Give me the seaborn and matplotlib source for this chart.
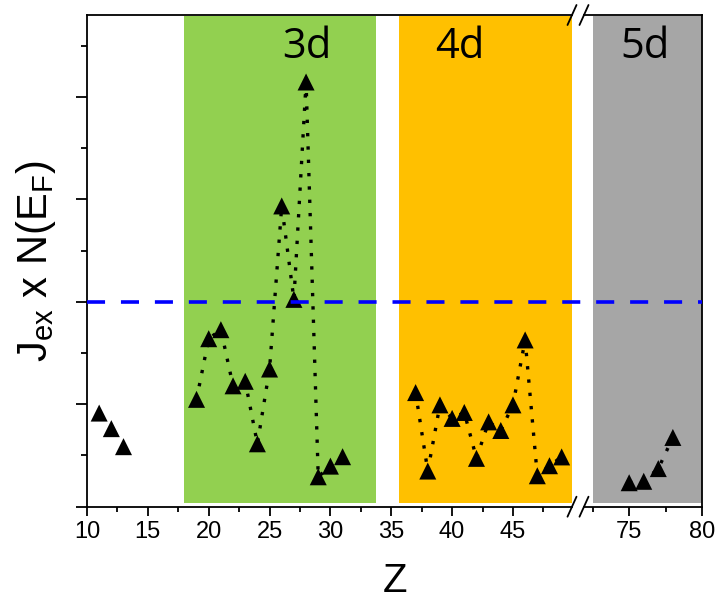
import matplotlib
matplotlib.use("Agg")
import matplotlib.pyplot as plt
import seaborn as sns
import pandas as pd
import numpy as np

# Atomic number Z and exchange integral times DOS at the Fermi level
z_sp = [11, 12, 13]
j_sp = [0.457, 0.381, 0.293]

z_3d = [19, 20, 21, 22, 23, 24, 25, 26, 27, 28, 29, 30, 31]
j_3d = [0.524, 0.820, 0.864, 0.590, 0.612, 0.307, 0.672, 1.468, 1.012, 2.073, 0.146, 0.198, 0.244]

z_4d = [37, 38, 39, 40, 41, 42, 43, 44, 45, 46, 47, 48, 49]
j_4d = [0.557, 0.174, 0.497, 0.431, 0.460, 0.236, 0.414, 0.372, 0.497, 0.814, 0.151, 0.200, 0.243]

z_5d = [75, 76, 77, 78]
j_5d = [0.117, 0.124, 0.186, 0.338]

stoner_limit = 1.0

band_names = ["3d", "4d", "5d"]
band_start = [18.0, 35.6, 72.55]
band_end = [33.75, 49.85, 80.0]
band_colors = ["#92D050", "#FFC000", "#A6A6A6"]
band_label_x = [28.1, 40.65, 76.1]

sns.set_style("ticks")
plt.rcParams["font.family"] = ["Liberation Sans", "DejaVu Sans"]
plt.rcParams["mathtext.default"] = "regular"
plt.rcParams["text.color"] = "black"
plt.rcParams["axes.labelcolor"] = "black"
plt.rcParams["xtick.color"] = "black"
plt.rcParams["ytick.color"] = "black"

W, H = 716, 599
fig = plt.figure(figsize=(W / 100, H / 100), dpi=100)

x_left, x_mid_l, x_mid_r, x_right = 87, 572, 584, 702
y_bot, y_top = 506.7, 15
bottom = 1 - y_bot / H
height = (y_bot - y_top) / H

ax1 = fig.add_axes([x_left / W, bottom, (x_mid_l - x_left) / W, height])
ax2 = fig.add_axes([x_mid_r / W, bottom, (x_right - x_mid_r) / W, height], sharey=ax1)
ax1.set_zorder(3)

ax1.set_xlim(10, 49.85)
ax2.set_xlim(71.9, 80)
ax1.set_ylim(0, 2.4)

# shaded d-series regions
for name, x0, x1, c, lx in zip(band_names, band_start, band_end, band_colors, band_label_x):
    ax = ax2 if x0 > 60 else ax1
    ax.axvspan(x0, x1, ymin=0.007, ymax=0.998, color=c, lw=0, zorder=0)
    ax.text(lx, 2.243, name, ha="center", va="center", fontsize=30, color="black",
            family=["Open Sans", "DejaVu Sans"], zorder=5)

dot_style = dict(color="black", lw=2.4, linestyle=(0, (1, 3.0)), zorder=2)
mk_style = dict(marker="^", s=150, color="black", edgecolor="none", zorder=3)

df_3d = pd.DataFrame({"Z": z_3d, "J": j_3d})
df_4d = pd.DataFrame({"Z": z_4d, "J": j_4d})
df_5d = pd.DataFrame({"Z": z_5d, "J": j_5d})
df_sp = pd.DataFrame({"Z": z_sp, "J": j_sp})

sns.lineplot(data=df_3d, x="Z", y="J", ax=ax1, **dot_style)
sns.lineplot(data=df_4d, x="Z", y="J", ax=ax1, **dot_style)
sns.lineplot(data=df_5d, x="Z", y="J", ax=ax2, **dot_style)
for d, ax in [(df_sp, ax1), (df_3d, ax1), (df_4d, ax1), (df_5d, ax2)]:
    sns.scatterplot(data=d, x="Z", y="J", ax=ax, legend=False, **mk_style)

# Stoner criterion line, continuous across the axis break
frac = (x_right - x_left) / (x_mid_l - x_left)
ax1.plot([0, frac], [stoner_limit, stoner_limit], transform=ax1.get_yaxis_transform(),
         clip_on=False, color="#0000FF", lw=2.6, linestyle=(0, (5.0, 4.4)), zorder=6)

# spines and ticks
for ax in (ax1, ax2):
    for s in ax.spines.values():
        s.set_linewidth(1.3)
        s.set_color("black")
    ax.set_xlabel("")
    ax.set_ylabel("")
    ax.tick_params(axis="x", which="major", direction="out", length=6.5, width=1.3,
                   labelsize=17, pad=4, colors="black")
    ax.tick_params(axis="x", which="minor", direction="out", length=3.6, width=1.3)
ax1.spines["right"].set_visible(False)
ax2.spines["left"].set_visible(False)

ax1.set_xticks([10, 15, 20, 25, 30, 35, 40, 45])
ax1.set_xticks([12.5, 17.5, 22.5, 27.5, 32.5, 37.5, 42.5, 47.5], minor=True)
ax2.set_xticks([75, 80])
ax2.set_xticks([72.5, 77.5], minor=True)

ax1.set_yticks([0, 0.5, 1.0, 1.5, 2.0])
ax1.set_yticks([0.25, 0.75, 1.25, 1.75, 2.25], minor=True)
ax1.set_yticklabels([])
ax1.tick_params(axis="y", which="major", direction="out", length=7.7, width=1.3)
ax1.tick_params(axis="y", which="minor", direction="out", length=4.3, width=1.3)
ax2.tick_params(axis="y", which="both", left=False, labelleft=False)

# break marks on the top and bottom spines
def slash(ax, xa):
    bb = ax.get_position()
    wpx = bb.width * W
    hpx = bb.height * H
    dx, dy = 4.5 / wpx, 10 / hpx
    for yy in (0, 1):
        ax.plot([xa - dx, xa + dx], [yy - dy, yy + dy], transform=ax.transAxes,
                clip_on=False, color="black", lw=1.3, zorder=7)

slash(ax1, 1.0)
slash(ax2, 0.0)

fig.text(46.7 / W, 1 - 261 / H, r"J$_{ex}$ x N(E$_F$)", rotation=90, rotation_mode="anchor",
         ha="center", va="baseline", fontsize=30, color="black")
fig.text((x_left + x_right) / 2 / W, 1 - 592 / H, "Z", ha="center", va="baseline",
         fontsize=29, color="black")

fig.savefig("out.png", dpi=100)
